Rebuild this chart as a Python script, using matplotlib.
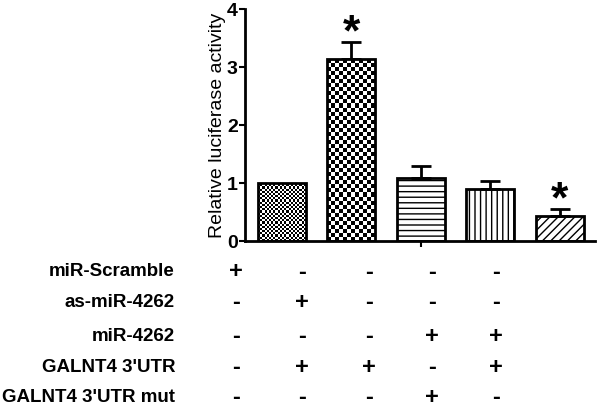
import matplotlib
matplotlib.use('Agg')
import matplotlib.pyplot as plt
import numpy as np

# data
groups = ['ctrl', 'as', 'utr', 'mut', 'mir']
values = [1.0, 3.13, 1.09, 0.89, 0.43]
errors = [0.0, 0.30, 0.20, 0.14, 0.12]
stars = [False, True, False, False, True]

row_labels = ['miR-Scramble', 'as-miR-4262', 'miR-4262', "GALNT4 3'UTR", "GALNT4 3'UTR mut"]
row_signs = [
    ['+', '-', '-', '-', '-'],
    ['-', '+', '-', '-', '-'],
    ['-', '-', '-', '+', '+'],
    ['-', '+', '+', '-', '+'],
    ['-', '-', '-', '+', '-'],
]

plt.rcParams['font.family'] = ['Liberation Sans', 'DejaVu Sans']
plt.rcParams['hatch.linewidth'] = 1.0

fig = plt.figure(figsize=(6, 4.1), dpi=100)
ax = fig.add_axes([0.408, 0.41, 0.583, 0.566])

x = np.arange(len(groups))
bars = ax.bar(x, values, width=0.69, color='none', edgecolor='black',
              linewidth=2.0, zorder=3)
ax.errorbar(x[1:], values[1:], yerr=[np.zeros(4), errors[1:]], fmt='none',
            ecolor='black', elinewidth=2.0, capsize=7, capthick=2.0, zorder=2)

# checkerboard fills for first two bars
def checker(bar, n):
    x0, w, h = bar.get_x(), bar.get_width(), bar.get_height()
    nx = n
    ny = int(round(n * h * 58 / (w * 69.5)))
    img = (np.indices((ny, nx)).sum(axis=0) % 2).astype(float)
    im = ax.imshow(img, cmap='gray', extent=(x0, x0 + w, 0, h), aspect='auto',
                   interpolation='nearest', zorder=2.5, vmin=0, vmax=1)
    im.set_clip_path(bar)

checker(bars[0], 22)
checker(bars[1], 12)
bars[2].set_hatch('---')
bars[3].set_hatch('|||')
bars[4].set_hatch('////')

for xi, v, e, s in zip(x, values, errors, stars):
    if s:
        ax.text(xi, v + e - 0.2, '*', ha='center', va='bottom',
                fontsize=32, fontweight='bold', clip_on=False)

ax.set_xlim(-0.53, 4.5)
ax.set_ylim(0, 4)
ax.set_yticks([0, 1, 2, 3, 4])
ax.set_yticklabels(['0', '1', '2', '3', '4'], fontsize=14, fontweight='bold')
ax.set_xticks([2])
ax.set_xticklabels([''])
ax.tick_params(axis='both', direction='out', length=4, width=1.5)
ax.tick_params(axis='y', pad=1)
ax.set_ylabel('Relative luciferase activity', fontsize=14, labelpad=1)
for side in ['top', 'right']:
    ax.spines[side].set_visible(False)
ax.spines['left'].set_linewidth(2)
ax.spines['bottom'].set_linewidth(2)

# condition table below the plot
row_y = [272, 303, 337, 368, 398]
col_x = [236, 302, 369, 432, 496]
for ry, lab, signs in zip(row_y, row_labels, row_signs):
    fig.text(175 / 600, 1 - ry / 410, lab, ha='right', va='center',
             fontsize=13.5, fontweight='bold')
    for cx, sg in zip(col_x, signs):
        fig.text(cx / 600, 1 - ry / 410, sg, ha='center', va='center',
                 fontsize=17, fontweight='bold')

fig.savefig('out.png', dpi=100)
